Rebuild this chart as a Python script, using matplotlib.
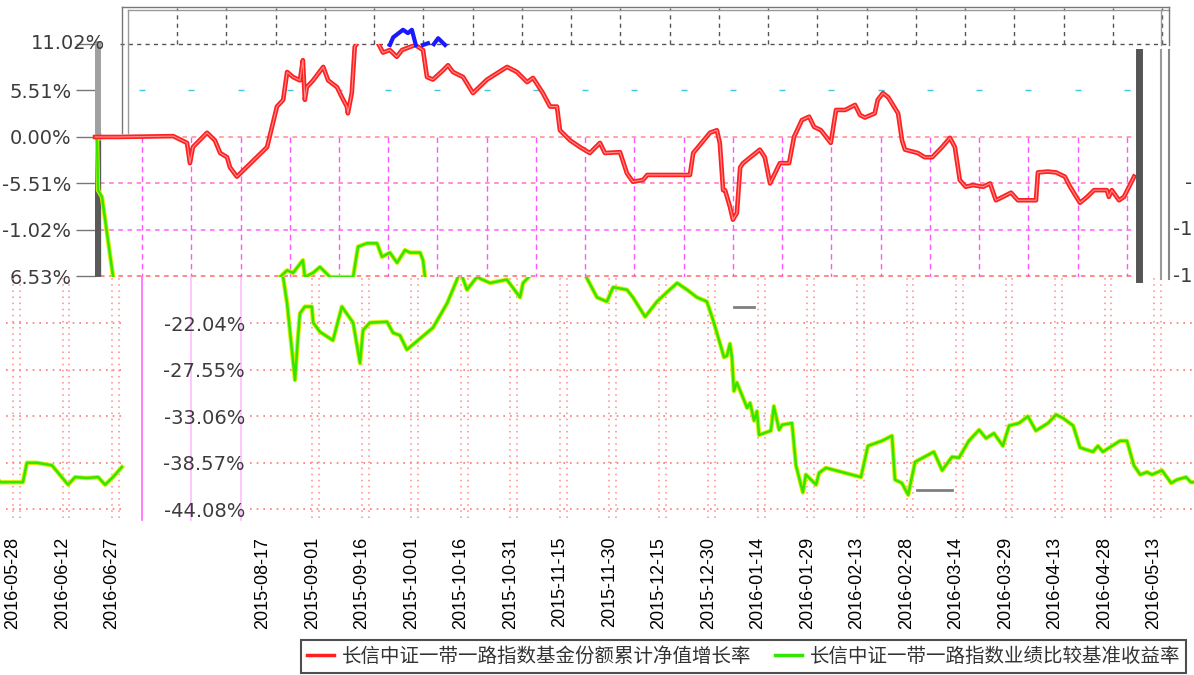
import numpy as np
import matplotlib
matplotlib.use('Agg')
import matplotlib.pyplot as plt
from matplotlib.lines import Line2D
from matplotlib.patches import Rectangle

plt.rcParams['font.family'] = ['DejaVu Sans', 'Noto Sans CJK SC']

# x values: calendar days counted from 2015-08-17
# fund cumulative NAV growth (%), as drawn in the upper strip
fund_days = [-44.3, -37.4, -20.5, -16.3, -15.4, -14.5, -10.2, -7.8, -6.2, -4.1,
             -3.2, -1.1, 8.1, 11.1, 13.0, 14.2, 16.0, 18.1, 19.0, 19.6,
             20.2, 22.1, 25.2, 26.7, 29.4, 30.9, 32.4, 32.7, 33.9, 34.8,
             36.4, 41.0, 43.4, 45.5, 47.6, 49.2, 53.2, 55.6, 56.8, 58.6,
             61.7, 63.2, 64.7, 67.8, 70.8, 75.1, 81.2, 84.2, 87.3, 89.1,
             92.1, 94.3, 96.4, 97.3, 100.4, 103.4, 106.4, 109.5, 111.0, 115.6,
             117.7, 119.5, 122.6, 123.9, 133.8, 136.9, 137.9, 143.0, 145.1, 146.0,
             147.0, 147.6, 149.1, 150.0, 151.2, 152.2, 153.1, 158.2, 159.7, 161.3,
             164.3, 167.1, 168.6, 171.0, 173.2, 174.7, 176.8, 179.2, 179.8, 181.4,
             184.2, 187.2, 188.7, 190.2, 193.2, 194.1, 195.7, 197.3, 200.3, 201.5,
             202.4, 206.3, 208.4, 210.7, 213.7, 216.1, 217.6, 219.1, 220.9, 223.1,
             226.2, 228.3, 230.1, 232.2, 234.7, 236.8, 242.3, 242.9, 245.9, 248.4,
             251.1, 252.7, 255.7, 257.9, 260.0, 263.9, 264.5, 265.4, 267.6, 269.1,
             272.2]
fund_pct = [0.0, 0.0, 0.1, -0.7, -3.1, -1.2, 0.5, -0.4, -1.9, -2.4,
            -3.6, -4.7, -1.2, 3.6, 4.4, 7.7, 7.1, 6.7, 9.1, 4.4,
            5.9, 6.7, 8.3, 6.7, 5.9, 4.7, 3.6, 2.8, 5.2, 10.7,
            11.6, 11.8, 10.0, 10.3, 9.5, 10.3, 10.9, 10.3, 7.1, 6.8,
            7.9, 8.5, 7.7, 7.1, 5.2, 6.8, 8.3, 7.7, 6.5, 7.0,
            5.2, 3.6, 3.6, 0.8, -0.4, -1.2, -1.9, -0.7, -1.9, -1.8,
            -4.3, -5.3, -5.1, -4.5, -4.5, -4.5, -1.9, 0.5, 0.8, -0.7,
            -6.3, -6.3, -8.3, -9.8, -9.0, -3.6, -3.1, -1.5, -2.4, -5.5,
            -3.1, -3.1, 0.0, 2.0, 2.4, 1.2, 0.8, -0.4, -0.7, 3.2,
            3.2, 3.8, 2.6, 2.3, 2.8, 4.4, 5.2, 4.7, 2.8, -0.4,
            -1.5, -1.9, -2.4, -2.4, -1.2, -0.1, -1.2, -5.1, -5.9, -5.7,
            -5.9, -5.5, -7.5, -7.1, -6.6, -7.5, -7.5, -4.2, -4.1, -4.2,
            -4.7, -5.9, -7.8, -7.1, -6.3, -6.3, -7.1, -6.3, -7.5, -7.1,
            -4.7]

# benchmark pieces that show in the upper strip
bench_top_days = [-44.3, -43.7, -43.4, -42.2, -38.8, -37.0, 10.0, 12.0, 14.2, 16.0,
                  19.0, 19.6, 22.1, 24.2, 27.3, 34.3, 35.8, 38.5, 41.6, 43.1,
                  45.5, 47.7, 50.1, 51.6, 54.7, 55.6, 56.2, 58.0]
bench_top_pct = [0.0, -0.4, -6.3, -7.1, -16.6, -18.5, -18.5, -16.6, -15.8, -16.1,
                 -14.6, -16.6, -16.1, -15.4, -16.6, -16.6, -13.0, -12.6, -12.6, -14.2,
                 -13.7, -14.9, -13.4, -13.7, -13.7, -14.6, -16.6, -18.5]

# blue piece above the 11.02% line
blue_days = [45.5, 46.5, 49.5, 51.0, 52.2, 53.4, np.nan, 55.6, 57.1, np.nan, 58.9, 60.2, 62.3]
blue_pct = [10.9, 11.8, 12.7, 12.3, 12.7, 10.9, np.nan, 10.9, 11.1, np.nan, 11.0, 11.7, 10.9]

# benchmark return (%), lower strip (wraps round to the left edge)
bench_days = [6.1, 7.3, 9.7, 10.6, 11.2, 12.7, 14.8, 15.2, 17.3, 21.2,
              23.9, 27.3, 29.4, 30.3, 32.4, 37.6, 39.4, 41.5, 43.6, 51.5,
              55.8, 58.8, 59.7, 61.8, 64.8, 68.8, 73.9, 77.9, 78.8, 83.9,
              96.1, 101.2, 104.2, 106.1, 110.3, 112.1, 115.8, 119.4, 122.4, 125.5,
              128.5, 131.5, 134.5, 136.4, 139.7, 140.6, 141.5, 142.1, 142.7, 143.6,
              146.7, 147.6, 148.8, 149.7, 150.3, 153.9, 154.8, 156.4, 157.3, 160.3,
              161.5, 163.6, 164.5, 167.6, 168.5, 170.6, 181.2, 183.3, 187.6, 190.6,
              191.5, 193.6, 195.5, 197.6, 203.3, 205.8, 208.8, 210.9, 213.9, 217.0,
              219.1, 221.5, 224.2, 226.1, 229.1, 231.8, 234.2, 237.9, 240.3, 242.4,
              245.5, 247.6, 251.5, 253.0, 254.5, 259.7, 261.8, 263.9, 265.8, 267.9,
              269.4, 272.4, 275.2, 277.0, 279.7, 281.2, 283.5, 288.0, 289.2, 292.3,
              296.8, 301.7, 303.8, 307.4, 310.8, 312.9, 315.3, 318.0]
bench_pct = [-16.6, -19.7, -28.8, -23.7, -20.9, -20.1, -20.1, -22.0, -23.1, -24.1,
             -20.1, -22.0, -26.8, -22.9, -22.0, -21.9, -23.2, -23.5, -25.2, -22.6,
             -19.7, -16.9, -15.8, -18.1, -16.6, -17.3, -16.9, -19.0, -17.3, -15.2,
             -15.2, -19.0, -19.5, -17.8, -18.1, -19.0, -21.3, -19.5, -18.4, -17.3,
             -18.1, -19.0, -19.5, -21.7, -26.1, -25.9, -24.5, -26.1, -30.1, -29.1,
             -32.1, -31.5, -33.6, -32.5, -35.3, -34.8, -31.9, -34.7, -34.1, -33.9,
             -38.9, -42.1, -40.0, -41.2, -39.8, -39.2, -40.3, -36.6, -36.0, -35.4,
             -40.6, -41.0, -42.4, -38.5, -37.3, -39.5, -37.9, -38.0, -36.0, -34.7,
             -35.7, -35.1, -36.6, -34.2, -33.9, -33.1, -34.8, -33.9, -32.9, -33.3,
             -34.2, -36.8, -37.3, -36.6, -37.3, -36.0, -36.0, -38.9, -40.0, -39.7,
             -40.0, -39.5, -41.0, -40.6, -40.3, -40.9, -40.9, -40.9, -38.6, -38.6,
             -38.9, -41.2, -40.3, -40.4, -40.3, -41.2, -40.3, -39.1]

# grey stray segments
gray_days = [142.7, 148.8, np.nan, 198.2, 208.8]
gray_pct = [-20.1, -20.1, np.nan, -41.8, -41.8]

top_ticks = [11.02, 5.51, 0.0, -5.51, -11.02, -16.53]
top_tick_labels = ['', '5.51%', '0.00%', '-5.51%', '-1.02%', '6.53%']
top_label_11 = '11.02%'
low_ticks = [-22.04, -27.55, -33.06, -38.57, -44.08]
low_tick_labels = ['-22.04%', '-27.55%', '-33.06%', '-38.57%', '-44.08%']
right_cut_labels = ['-', '-1', '-1']
right_cut_levels = [-5.51, -11.02, -16.53]
date_days = list(range(0, 271, 15))
date_labels = ['2015-08-17', '2015-09-01', '2015-09-16', '2015-10-01', '2015-10-16',
               '2015-10-31', '2015-11-15', '2015-11-30', '2015-12-15', '2015-12-30',
               '2016-01-14', '2016-01-29', '2016-02-13', '2016-02-28', '2016-03-14',
               '2016-03-29', '2016-04-13', '2016-04-28', '2016-05-13']
wrap_days = [285, 300, 315]
wrap_labels = ['2016-05-28', '2016-06-12', '2016-06-27']
legend_labels = ['长信中证一带一路指数基金份额累计净值增长率',
                 '长信中证一带一路指数业绩比较基准收益率']

RED = '#ff2020'
GREEN = '#33e600'
YEL = '#d8f000'
TXT = '#3c3c3c'

W, H = 1194, 675
fig = plt.figure(figsize=(W / 100, H / 100), dpi=100)


def box(l, t, r, b):
    return [l / W, 1 - b / H, (r - l) / W, (b - t) / H]


def fline(xs, ys, **kw):
    fig.add_artist(Line2D([x / W for x in xs], [1 - y / H for y in ys], **kw))


ax1 = fig.add_axes(box(95, 8, 1175, 277))
ax2 = fig.add_axes(box(140, 277, 1194, 518))
ax3 = fig.add_axes(box(0, 277, 140, 518))
for ax in (ax1, ax2, ax3):
    ax.set_facecolor('none')
    for s in ax.spines.values():
        s.set_visible(False)

# ---------------- upper strip ----------------
y0, y1 = -16.59, 15.28
ax1.set_xlim(-44.32, 284.65)
ax1.set_ylim(y0, y1)
ax1.set_xticks([])
ax1.set_yticks(top_ticks, top_tick_labels)
ax1.tick_params(axis='y', length=14, width=1, color='#777777', pad=3,
                labelsize=14, labelcolor=TXT)
ax1.annotate(top_label_11, xy=(0.009, 11.02), xycoords=('axes fraction', 'data'),
             ha='right', va='center', fontsize=14, color=TXT, annotation_clip=False)

top_grid = np.arange(-30, 271, 15)
for d in top_grid:
    ax1.plot([d, d], [0, y0], color='#ff55ff', lw=1, ls=(0, (4, 3)))
for d in top_grid[:3]:
    ax1.plot([d, d], [y0, -45.4], color='#ff66ff' if d == -30 else '#ffbbff',
             lw=1.2, clip_on=False)
ax1.plot(top_grid, [5.51] * len(top_grid), ls='none', marker='_', ms=5, color='#40c8e0')
for v, c in [(0, '#ff8a8a'), (-5.51, '#ff70c0'), (-11.02, '#ff60ff'), (-16.53, '#ff6a6a')]:
    ax1.plot([-42.8, 272.4], [v, v], color=c, lw=1.1, ls=(0, (3, 3)))

fr11 = (11.02 - y0) / (y1 - y0)
fr0 = (0 - y0) / (y1 - y0)
for d in np.arange(-19.3, 285, 15):
    ax1.axvline(d, ymin=fr11, ymax=1, color='#555555', lw=1, ls=(0, (3, 3)))
ax1.plot([-36.7, 283.1], [11.02, 11.02], color='#555555', lw=1, ls=(0, (3, 3)))

ax1.plot([0.002, 0.002], [0, fr0], transform=ax1.transAxes, color='#5a5a5a', lw=6)
ax1.plot([0.002, 0.002], [fr0, fr11], transform=ax1.transAxes, color='#a0a0a0', lw=5)

clip = Rectangle((-50, y0), 340, 11.02 - y0, transform=ax1.transData)
ax1.plot(bench_top_days, bench_top_pct, color=YEL, lw=3.2)
ax1.plot(bench_top_days, bench_top_pct, color=GREEN, lw=1.8)
r1, = ax1.plot(fund_days, fund_pct, color=RED, lw=3.3)
r2, = ax1.plot(fund_days, fund_pct, color='white', lw=0.8, alpha=0.5)
r1.set_clip_path(clip)
r2.set_clip_path(clip)
ax1.plot(blue_days, blue_pct, color='#1a1aff', lw=3)

# frame pieces
fline([122, 1169], [7, 7], color='#777777', lw=1)
fline([128, 1169], [10, 10], color='#999999', lw=1)
fline([122, 122], [7, 133], color='#777777', lw=1)
fline([128, 128], [10, 133], color='#999999', lw=1)
fline([1161, 1161], [10, 45], color='#999999', lw=1)
fline([1169, 1169], [7, 45], color='#777777', lw=1)
fline([1161, 1161], [50, 279], color='#999999', lw=1.5)
fline([1169, 1169], [50, 279], color='#888888', lw=1.5)
fline([1139, 1139], [52, 279], color='#555555', lw=5)

for lvl, s in zip(right_cut_levels, right_cut_labels):
    ax1.annotate(s, xy=(1.0, lvl), xycoords=('axes fraction', 'data'), xytext=(1194 - 2, 0),
                 textcoords=('figure pixels', 'offset pixels'), ha='right', va='center',
                 fontsize=14, color=TXT, annotation_clip=False)

# ---------------- lower strip ----------------
ly0, ly1 = -45.14, -16.59
ax2.set_xlim(-37.27, 282.12)
ax2.set_ylim(ly0, ly1)
ax2.set_yticks(low_ticks, low_tick_labels)
ax2.tick_params(axis='y', length=0, pad=-75.6, labelsize=14, labelcolor=TXT)
ax2.set_xticks(date_days, date_labels, rotation=90)
ax2.tick_params(axis='x', length=0, pad=13.5)
for lb in ax2.get_xticklabels():
    lb.set_fontfamily('Liberation Sans')
    lb.set_fontsize(13)

for v in [-16.53] + low_ticks:
    ax2.plot([-3.9, 282.12], [v, v], color='#ff7777', lw=1.2, ls=(0, (1, 3)))
for d in date_days[1:]:
    for dd in (d, d + 2.1):
        ax2.axvline(dd, color='#ff8888', lw=1.1, ls=(0, (1, 3)))
ax2.plot(bench_days, bench_pct, color=YEL, lw=3.2)
ax2.plot(bench_days, bench_pct, color=GREEN, lw=1.8)
ax2.plot(gray_days, gray_pct, color='#808080', lw=2)

# wrapped piece at the far left
ax3.set_xlim(281.06, 323.48)
ax3.set_ylim(ly0, ly1)
ax3.set_yticks([])
ax3.set_xticks(wrap_days, wrap_labels, rotation=90)
ax3.tick_params(axis='x', length=0, pad=13.5)
for lb in ax3.get_xticklabels():
    lb.set_fontfamily('Liberation Sans')
    lb.set_fontsize(13)
for v in [-16.53] + low_ticks:
    ax3.plot([283.0, 318.5], [v, v], color='#ff7777', lw=1.2, ls=(0, (1, 3)))
for d in wrap_days:
    for dd in (d, d + 2.1):
        ax3.axvline(dd, color='#ff8888', lw=1.1, ls=(0, (1, 3)))
ax3.plot(bench_days, bench_pct, color=YEL, lw=3.2)
ax3.plot(bench_days, bench_pct, color=GREEN, lw=1.8)

# ---------------- legend ----------------
handles = [Line2D([], [], color=RED, lw=2.5), Line2D([], [], color=GREEN, lw=2.5)]
leg = fig.legend(handles, legend_labels, loc='lower right', bbox_to_anchor=(1186 / W, 2 / H),
                 ncol=2, frameon=True, fancybox=False, edgecolor='#222222',
                 prop={'family': ['Noto Sans CJK SC'], 'size': 14}, labelcolor='#333333',
                 handlelength=1.4, handletextpad=0.4, columnspacing=1.2,
                 borderpad=0.3, borderaxespad=0)
leg.get_frame().set_linewidth(1.5)

fig.savefig('out.png', dpi=100)
